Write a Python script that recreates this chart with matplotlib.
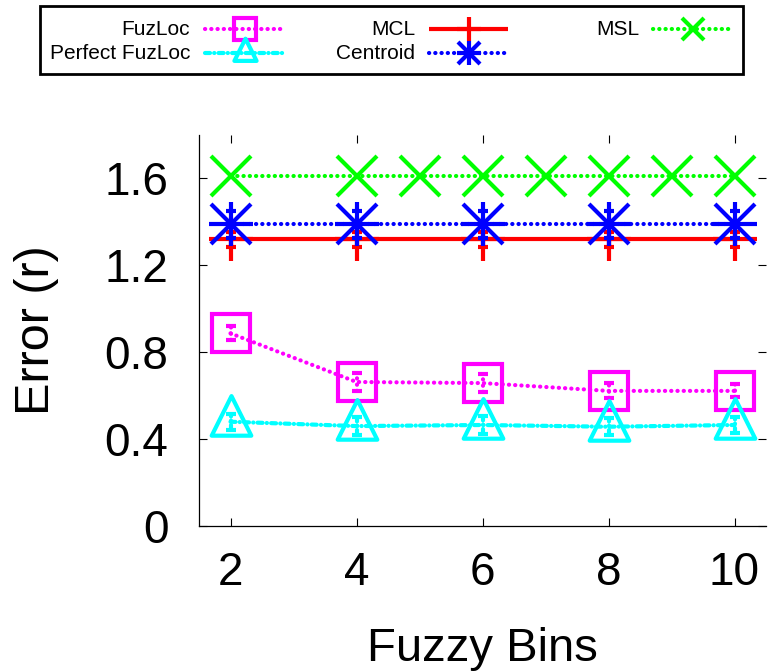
import matplotlib
matplotlib.use("Agg")
import matplotlib.pyplot as plt
from matplotlib.patches import Rectangle
from matplotlib.markers import MarkerStyle
from matplotlib.path import Path

plt.rcParams['font.family'] = ['Liberation Sans', 'DejaVu Sans']

# ---- data ----
bins = [2, 4, 6, 8, 10]
msl_bins = [2, 4, 5, 6, 7, 8, 9, 10]

fuzloc = [0.887, 0.663, 0.658, 0.622, 0.622]
fuzloc_err = [0.032, 0.04, 0.04, 0.035, 0.03]
perfect = [0.48, 0.46, 0.465, 0.457, 0.465]
perfect_err = [0.037, 0.04, 0.04, 0.04, 0.035]
mcl = [1.32, 1.32, 1.32, 1.32, 1.32]
mcl_err = [0.034, 0.034, 0.034, 0.034, 0.034]
centroid = [1.388, 1.388, 1.388, 1.388, 1.388]
centroid_err = [0.06, 0.06, 0.06, 0.06, 0.06]
msl = [1.61, 1.61, 1.61, 1.61, 1.61, 1.61, 1.61, 1.61]

xticks = [2, 4, 6, 8, 10]
yticks = [0, 0.4, 0.8, 1.2, 1.6]
ytick_labels = ['0', '0.4', '0.8', '1.2', '1.6']

# ---- styles ----
LW = 3.0
DOT = (0, (0.05, 1.45))
DASHDOT = (0, (1.2, 1.0, 0.05, 1.0))
tri = MarkerStyle(Path([(0, 1), (-0.75, -0.5), (0.75, -0.5), (0, 1)],
                       [Path.MOVETO, Path.LINETO, Path.LINETO, Path.CLOSEPOLY]))

series = [
    dict(label='FuzLoc', x=bins, y=fuzloc, err=fuzloc_err, color='#ff00ff',
         ls=DOT, markers=[('s', 28)]),
    dict(label='Perfect FuzLoc', x=bins, y=perfect, err=perfect_err, color='#00ffff',
         ls=DASHDOT, markers=[(tri, 38)]),
    dict(label='MCL', x=bins, y=mcl, err=mcl_err, color='#ff0000',
         ls='-', markers=[('+', 31)]),
    dict(label='Centroid', x=bins, y=centroid, err=centroid_err, color='#0000ff',
         ls=DOT, markers=[('+', 31), ('x', 29)]),
    dict(label='MSL', x=msl_bins, y=msl, err=None, color='#00ff00',
         ls=DOT, markers=[('x', 29)]),
]

fig = plt.figure(figsize=(7.68, 6.72), dpi=100)
ax = fig.add_axes([199 / 768, (672 - 526) / 672, (766 - 199) / 768, (526 - 135) / 672])

for i, s in enumerate(series):
    z = 2 + i
    ax.plot(s['x'], s['y'], color=s['color'], lw=LW, ls=s['ls'],
            dash_capstyle='round', solid_capstyle='butt', zorder=z)
    if s['err'] is not None:
        _, caps, bars = ax.errorbar(s['x'], s['y'], yerr=s['err'], fmt='none',
                                    ecolor=s['color'], elinewidth=LW, capsize=3.5,
                                    capthick=LW, zorder=z)
        for b in bars:
            b.set_linestyle(s['ls'])
            b.set_capstyle('round')
    for m, ms in s['markers']:
        ax.plot(s['x'], s['y'], ls='none', marker=m, ms=ms, mew=LW,
                mfc='none', mec=s['color'], zorder=z,
                solid_capstyle='round')

ax.set_xlim(1.5, 10.5)
ax.set_ylim(0, 1.8)
ax.set_xticks(xticks)
ax.set_yticks(yticks)
ax.set_yticklabels(ytick_labels)
ax.tick_params(direction='in', length=6, width=0.8, top=True, right=True,
               labelsize=33, colors='black')
ax.tick_params(axis='y', pad=22)
ax.tick_params(axis='x', pad=18)
for side in ('top', 'right'):
    ax.spines[side].set_visible(False)
for side in ('left', 'bottom'):
    ax.spines[side].set_linewidth(0.9)
ax.set_xlabel('Fuzzy Bins', fontsize=34, labelpad=23)
ax.set_ylabel('Error (r)', fontsize=35, labelpad=33)

# ---- key box above the plot ----
lax = fig.add_axes([0, 0, 1, 1], zorder=10)
lax.set_xlim(0, 768)
lax.set_ylim(672, 0)
lax.axis('off')
lax.add_patch(Rectangle((39.5, 6), 703, 68, fill=False, lw=2.0, ec='black'))

cols = [(190, 205, 285), (415, 429, 508), (639, 653, 733)]
rows = [28.5, 52.7]
slots = [(0, 0), (1, 0), (0, 1), (1, 1), (0, 2)]
for s, (r, c) in zip(series, slots):
    tx, x0, x1 = cols[c]
    y = rows[r]
    lax.text(tx, y + 6.5, s['label'], ha='right', va='baseline', fontsize=15)
    lax.plot([x0, x1], [y, y], color=s['color'], lw=LW, ls=s['ls'],
             dash_capstyle='round', solid_capstyle='butt')
    for m, ms in s['markers']:
        lax.plot([(x0 + x1) / 2], [y], ls='none', marker=m, ms=ms * 0.56,
                 mew=LW, mfc='none', mec=s['color'])

fig.savefig('out.png', dpi=100)
